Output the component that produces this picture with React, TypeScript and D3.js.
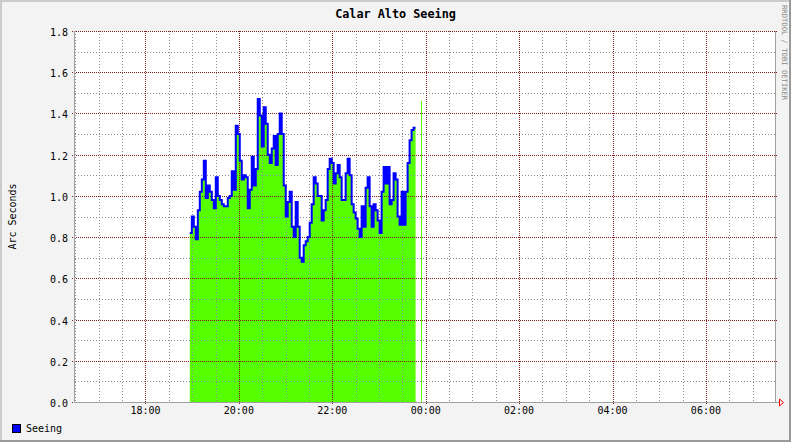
import { useEffect, useRef } from 'react'
import * as d3 from 'd3'

const width = 791
const height = 442
const PLOT = { left: 75, right: 775, top: 31, bottom: 402 }

// time window of the graph (local time)
const axisStart = new Date(2010, 0, 1, 16, 29, 30)
const axisEnd = new Date(2010, 0, 2, 7, 28, 45)

// seeing samples, one every STEP_SEC from seriesStart
const seriesStart = new Date(2010, 0, 1, 18, 57, 0)
const STEP_SEC = 154
const seeing = [
  0.82, 0.9, 0.85, 0.79, 0.93, 1.02, 1.08, 1.17, 0.99, 1.05, 1.02, 0.98, 0.94, 1.09,
  1.0, 0.98, 0.96, 0.95, 0.95, 0.99, 1.0, 1.12, 1.03, 1.34, 1.3, 1.17, 1.08, 1.1,
  1.09, 0.94, 1.03, 1.19, 1.05, 1.13, 1.47, 1.39, 1.24, 1.43, 1.35, 1.2, 1.16, 1.23,
  1.29, 1.15, 1.3, 1.4, 1.3, 1.05, 0.9, 0.97, 1.02, 0.85, 0.8, 0.97, 0.85, 0.7, 0.68,
  0.76, 0.78, 0.8, 0.87, 0.96, 1.09, 1.06, 1.0, 1.0, 0.88, 0.93, 0.98, 1.13, 1.18,
  1.16, 1.06, 1.11, 1.15, 1.09, 0.98, 0.98, 1.11, 1.18, 1.1, 0.96, 0.92, 0.89, 0.84,
  0.8, 0.95, 0.85, 1.04, 1.09, 0.95, 0.85, 0.96, 0.93, 0.88, 0.82, 1.02, 1.14, 1.06,
  1.14, 0.96, 0.98, 1.11, 1.08, 0.9, 0.86, 1.02, 0.86, 1.02, 1.16, 1.27, 1.32, 1.33,
]

// a lone sample after the gap
const lateTimes = [new Date(2010, 0, 1, 23, 54, 0)]
const lateValues = [1.46]

const yMin = 0
const yMax = 1.8

const FONT = "'DejaVu Sans Mono', monospace"
const GREEN = '#55ff00'
const BLUE = '#0000ff'
const MGRID = '#7f1c1c'
const GRID = '#8c8c8c'

function SeeingGraph() {
  const ref = useRef<SVGSVGElement>(null)

  useEffect(() => {
    drawChart()
  }, [])

  const drawChart = () => {
    const svg = d3.select(ref.current)
    svg.selectAll('*').remove()

    const xScale = d3.scaleTime().domain([axisStart, axisEnd]).range([PLOT.left, PLOT.right])
    const yScale = d3.scaleLinear().domain([yMin, yMax]).range([PLOT.bottom, PLOT.top])
    const crisp = (v: number) => Math.round(v) + 0.5

    // background + 3d border
    svg.append('rect').attr('width', width).attr('height', height).attr('fill', '#f3f3f3')
    svg.append('path').attr('d', `M1,${height} V1 H${width}`).attr('stroke', '#cbcbcb').attr('stroke-width', 2).attr('fill', 'none')
    svg.append('path').attr('d', `M0,${height - 1} H${width - 1} V0`).attr('stroke', '#999').attr('stroke-width', 2).attr('fill', 'none')

    // canvas
    svg
      .append('rect')
      .attr('x', PLOT.left)
      .attr('y', PLOT.top)
      .attr('width', PLOT.right - PLOT.left)
      .attr('height', PLOT.bottom - PLOT.top)
      .attr('fill', '#fff')

    const data = seeing.map((v, i) => ({ t: new Date(seriesStart.getTime() + i * STEP_SEC * 1000), v }))
    // close the last step
    const last = data[data.length - 1]
    const stepData = [...data, { t: new Date(last.t.getTime() + STEP_SEC * 1000), v: last.v }]

    const area = d3
      .area<any>()
      .x((d) => xScale(d.t))
      .y0(yScale(0))
      .y1((d) => yScale(d.v))
      .curve(d3.curveStepAfter)
    const line = d3
      .line<any>()
      .x((d) => xScale(d.t))
      .y((d) => yScale(d.v))
      .curve(d3.curveStepAfter)

    svg.append('path').datum(stepData).attr('fill', GREEN).attr('d', area)
    svg
      .selectAll('.late')
      .data(lateTimes)
      .enter()
      .append('rect')
      .attr('x', (d) => Math.round(xScale(d)))
      .attr('y', (d, i) => yScale(lateValues[i]))
      .attr('width', 1)
      .attr('height', (d, i) => yScale(0) - yScale(lateValues[i]))
      .attr('fill', GREEN)

    // grid
    const g = svg.append('g').attr('shape-rendering', 'crispEdges')
    const yMinor = yScale.ticks(18)
    const yMajorTicks = yScale.ticks(9)
    const xMinor = d3.timeMinute.every(30)!.range(axisStart, axisEnd)
    const xMajor = d3.timeHour.every(2)!.range(axisStart, axisEnd)

    yMinor
      .filter((v) => !yMajorTicks.some((m) => Math.abs(m - v) < 1e-6))
      .forEach((v) => {
        g.append('line')
          .attr('x1', PLOT.left).attr('x2', PLOT.right)
          .attr('y1', crisp(yScale(v))).attr('y2', crisp(yScale(v)))
          .attr('stroke', GRID).attr('stroke-dasharray', '1,2')
      })
    xMinor
      .filter((t) => !xMajor.some((m) => m.getTime() === t.getTime()))
      .forEach((t) => {
        g.append('line')
          .attr('x1', crisp(xScale(t))).attr('x2', crisp(xScale(t)))
          .attr('y1', PLOT.top).attr('y2', PLOT.bottom)
          .attr('stroke', GRID).attr('stroke-dasharray', '1,2')
      })
    yMajorTicks.forEach((v) => {
      g.append('line')
        .attr('x1', PLOT.left - 3).attr('x2', PLOT.right + 3)
        .attr('y1', crisp(yScale(v))).attr('y2', crisp(yScale(v)))
        .attr('stroke', MGRID).attr('stroke-dasharray', '1,1')
    })
    xMajor.forEach((t) => {
      g.append('line')
        .attr('x1', crisp(xScale(t))).attr('x2', crisp(xScale(t)))
        .attr('y1', PLOT.top).attr('y2', PLOT.bottom + 2)
        .attr('stroke', MGRID).attr('stroke-dasharray', '1,1')
    })

    // blue line over the area
    svg
      .append('path')
      .datum(stepData)
      .attr('fill', 'none')
      .attr('stroke', BLUE)
      .attr('stroke-width', 2)
      .attr('d', line)

    // axes
    g.append('line')
      .attr('x1', PLOT.left - 0.5).attr('x2', PLOT.left - 0.5)
      .attr('y1', PLOT.top).attr('y2', PLOT.bottom + 1)
      .attr('stroke', '#a0a0a0')
    g.append('line')
      .attr('x1', PLOT.right + 0.5).attr('x2', PLOT.right + 0.5)
      .attr('y1', PLOT.top).attr('y2', PLOT.bottom + 1)
      .attr('stroke', '#a0a0a0')
    g.append('line')
      .attr('x1', PLOT.left - 1).attr('x2', PLOT.right + 4)
      .attr('y1', PLOT.bottom + 0.5).attr('y2', PLOT.bottom + 0.5)
      .attr('stroke', '#a0a0a0')
    svg
      .append('path')
      .attr('d', `M${PLOT.right + 4.5},${PLOT.bottom - 3} L${PLOT.right + 8.5},${PLOT.bottom + 0.5} L${PLOT.right + 4.5},${PLOT.bottom + 4} Z`)
      .attr('fill', 'none')
      .attr('stroke', '#ff0000')

    // labels
    svg
      .selectAll('.ylab')
      .data(yMajorTicks)
      .enter()
      .append('text')
      .attr('x', PLOT.left - 7)
      .attr('y', (d) => yScale(d) + 5)
      .attr('text-anchor', 'end')
      .attr('font-family', FONT)
      .attr('font-size', 10)
      .text((d) => d3.format('.1f')(d))
    svg
      .selectAll('.xlab')
      .data(xMajor)
      .enter()
      .append('text')
      .attr('x', (d) => xScale(d))
      .attr('y', 414)
      .attr('text-anchor', 'middle')
      .attr('font-family', FONT)
      .attr('font-size', 10)
      .text((d) => d3.timeFormat('%H:%M')(d))

    svg
      .append('text')
      .attr('x', width / 2)
      .attr('y', 18)
      .attr('text-anchor', 'middle')
      .attr('font-family', FONT)
      .attr('font-weight', 'bold')
      .attr('font-size', 11.8)
      .text('Calar Alto Seeing')
    svg
      .append('text')
      .attr('transform', `translate(16,${(PLOT.top + PLOT.bottom) / 2}) rotate(-90)`)
      .attr('text-anchor', 'middle')
      .attr('font-family', FONT)
      .attr('font-size', 10)
      .text('Arc Seconds')
    svg
      .append('text')
      .attr('transform', `translate(781.5,5) rotate(90)`)
      .attr('text-anchor', 'start')
      .attr('font-family', FONT)
      .attr('font-size', 7.2)
      .attr('fill', '#888')
      .text('RRDTOOL / TOBI OETIKER')

    // legend
    svg
      .append('rect')
      .attr('x', 12.5).attr('y', 424.5).attr('width', 8).attr('height', 8)
      .attr('fill', BLUE).attr('stroke', '#000')
    svg
      .append('text')
      .attr('x', 26)
      .attr('y', 432)
      .attr('font-family', FONT)
      .attr('font-size', 10)
      .text('Seeing')
  }

  return (
    <div>
      <style>{'body{margin:0}'}</style>
      <svg ref={ref} width={width} height={height} style={{ display: 'block' }} />
    </div>
  )
}

export default function App() {
  return <SeeingGraph />
}
